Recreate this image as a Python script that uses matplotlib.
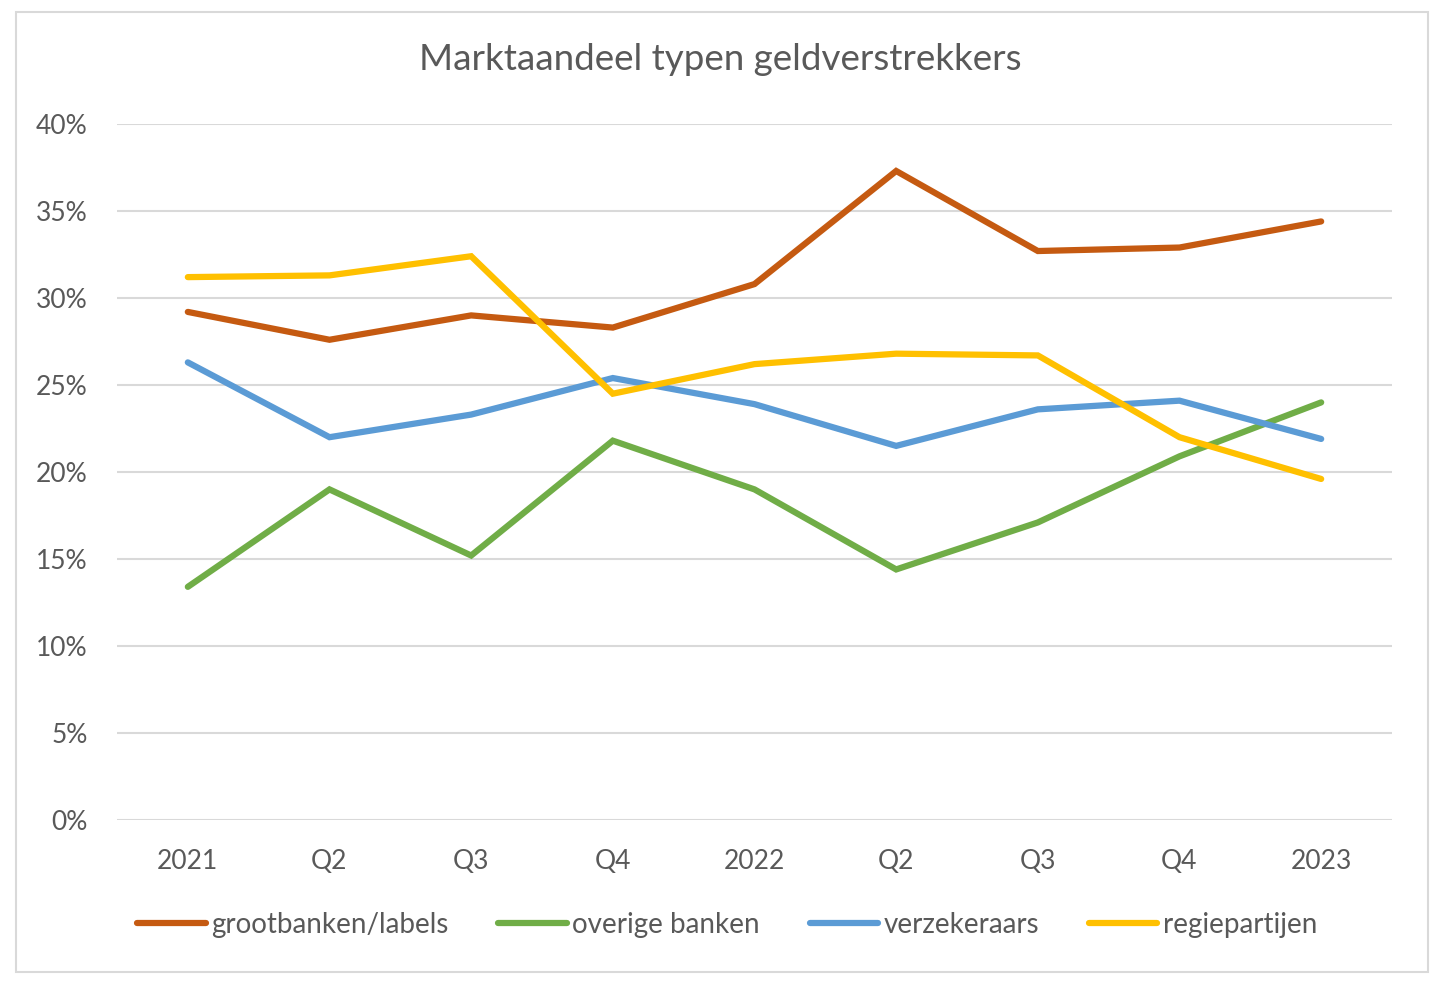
import matplotlib.pyplot as plt
from matplotlib.patches import Rectangle
from matplotlib.ticker import FuncFormatter

# Kwartalen en marktaandelen (in %)
categories = ["2021", "Q2", "Q3", "Q4", "2022", "Q2", "Q3", "Q4", "2023"]
grootbanken = [29.2, 27.6, 29.0, 28.3, 30.8, 37.3, 32.7, 32.9, 34.4]
overige_banken = [13.4, 19.0, 15.2, 21.8, 19.0, 14.4, 17.1, 20.9, 24.0]
verzekeraars = [26.3, 22.0, 23.3, 25.4, 23.9, 21.5, 23.6, 24.1, 21.9]
regiepartijen = [31.2, 31.3, 32.4, 24.5, 26.2, 26.8, 26.7, 22.0, 19.6]

plt.rcParams["font.family"] = ["Lato", "DejaVu Sans"]
text_color = "#595959"

fig = plt.figure(figsize=(14.4, 9.9), dpi=100)
ax = fig.add_axes([117 / 1440, 1 - 820 / 990, 1275 / 1440, 696 / 990])

# Rand om de grafiek
fig.patches.append(Rectangle((16 / 1440, 1 - 972 / 990), 1412 / 1440, 960 / 990,
                             transform=fig.transFigure, fill=False,
                             edgecolor="#d9d9d9", linewidth=1.5))

x = range(len(categories))
series = [
    (grootbanken, "grootbanken/labels", "#C55A11"),
    (overige_banken, "overige banken", "#70AD47"),
    (verzekeraars, "verzekeraars", "#5B9BD5"),
    (regiepartijen, "regiepartijen", "#FFC000"),
]
for values, label, color in series:
    ax.plot(x, values, color=color, linewidth=4.5, label=label,
            solid_capstyle="round", solid_joinstyle="miter")

ax.set_xlim(-0.5, len(categories) - 0.5)
ax.set_ylim(0, 40)
ax.set_yticks(range(0, 41, 5))
ax.yaxis.set_major_formatter(FuncFormatter(lambda v, _: f"{v:.0f}%"))
ax.set_xticks(list(x))
ax.set_xticklabels(categories)
ax.grid(axis="y", color="#d9d9d9", linewidth=1.5)
ax.set_axisbelow(True)
for side in ["top", "right", "left", "bottom"]:
    ax.spines[side].set_visible(False)
ax.tick_params(length=0, labelsize=19, labelcolor=text_color)
ax.tick_params(axis="x", pad=21)
ax.tick_params(axis="y", pad=21)

fig.text(0.5, 1 - 60 / 990, "Marktaandeel typen geldverstrekkers",
         ha="center", va="center", fontsize=26.5, color=text_color)

leg = fig.legend(loc="center", bbox_to_anchor=(0.505, 1 - 925 / 990), ncol=4,
                 frameon=False, fontsize=20, handlelength=2.45, handletextpad=0.2,
                 columnspacing=1.8, labelcolor=text_color)

fig.savefig("out.png", dpi=100)
